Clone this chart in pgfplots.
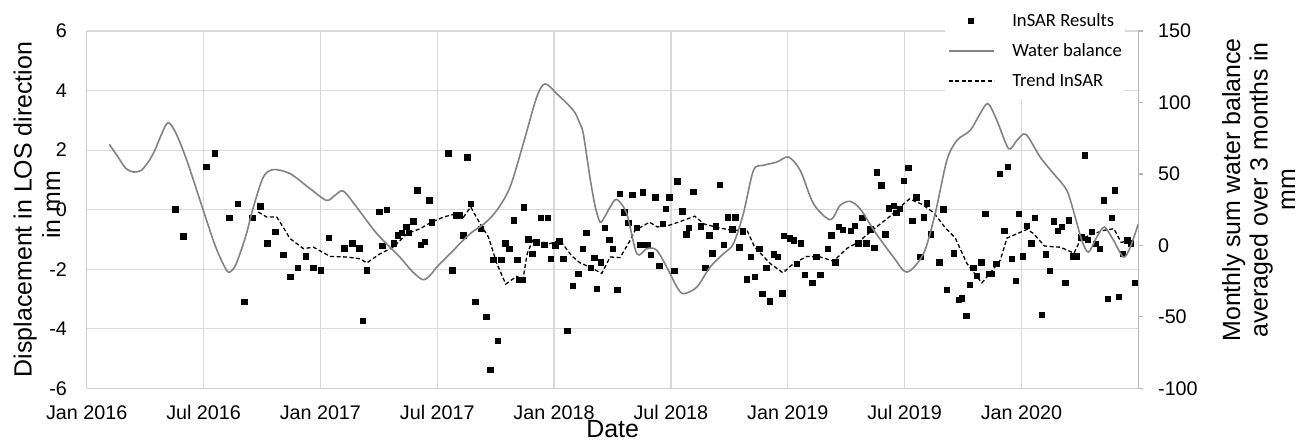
\documentclass[border=0pt]{standalone}
\usepackage{fontspec}
\setmainfont{Liberation Sans}
\newfontfamily\legendfont{Carlito}
\usepackage{pgfplots}
\pgfplotsset{compat=1.18}

\definecolor{wbgray}{RGB}{130,130,130}
\definecolor{gridgray}{RGB}{217,217,217}
\definecolor{axgray}{RGB}{205,205,205}

\begin{document}
\begin{tikzpicture}
\path[use as bounding box] (-86.7bp,-52.7bp) rectangle (1222.3bp,388.3bp);

% x = months since Jan 2016
\pgfplotsset{
  common/.style={
    scale only axis, width=1051.6bp, height=357.3bp,
    xmin=0, xmax=54,
    /pgf/number format/assume math mode=true,
    tick label style={font=\fontsize{19.8}{22}\selectfont},
  },
  lineleg/.style={legend image code/.code={\draw[##1] (0bp,0bp) -- (45.5bp,0bp);}},
  markleg/.style={legend image code/.code={\draw[mark repeat=2,mark phase=2,##1] plot coordinates {(0bp,0bp) (22bp,0bp) (45.5bp,0bp)};}},
}

\begin{axis}[common,
  ymin=-6, ymax=6, ytick={-6,-4,...,6},
  xtick={0,6,...,48},
  xticklabels={Jan 2016,Jul 2016,Jan 2017,Jul 2017,Jan 2018,Jul 2018,Jan 2019,Jul 2019,Jan 2020},
  axis x line=bottom, axis y line=left,
  axis line style={-, draw=axgray, line width=1.2bp},
  major tick length=0pt,
  grid=major, major grid style={draw=gridgray, line width=1.2bp},
  xticklabel style={anchor=base, inner sep=0pt, yshift=-31bp},
  yticklabel style={anchor=east, inner sep=0pt, xshift=-19.7bp},
]
% InSAR results
\addplot[only marks, mark=square*, mark size=2.7bp, black] coordinates {
(4.54,0.02) (4.96,-0.89) (6.13,1.45) (6.57,1.90) (7.32,-0.28) (7.74,0.20)
(8.08,-3.10) (8.49,-0.28) (8.90,0.11) (9.26,-1.13) (9.67,-0.75) (10.10,-1.51)
(10.44,-2.25) (10.85,-1.95) (11.26,-1.57) (11.64,-1.95) (12.03,-2.03) (12.44,-0.95)
(13.22,-1.29) (13.63,-1.12) (14.00,-1.29) (14.18,-3.72) (14.38,-2.03) (15.01,-0.06)
(15.39,-0.01) (15.18,-1.21) (15.75,-1.12) (15.97,-0.86) (16.18,-0.77) (16.40,-0.57)
(16.55,-0.77) (16.77,-0.39) (16.98,0.66) (17.15,-1.18) (17.36,-1.07) (17.58,0.32)
(17.73,-0.42) (18.56,1.90) (18.76,-2.03) (18.95,-0.19) (19.14,-0.19) (19.34,-0.86)
(19.53,1.76) (19.72,0.21) (19.94,-3.10) (20.24,-0.64) (20.51,-3.60) (20.88,-1.68)
(21.28,-1.68) (21.11,-4.40) (20.73,-5.37) (21.50,-1.12) (21.69,-1.31) (21.92,-0.36)
(22.10,-1.68) (22.20,-2.36) (22.40,-2.36) (22.44,0.08) (22.67,-0.99) (22.87,-1.47)
(23.08,-1.09) (23.30,-0.28) (23.66,-0.28) (23.50,-1.18) (23.83,-1.65) (24.05,-1.20)
(24.27,-1.06) (24.46,-1.65) (24.67,-4.06) (24.96,-2.55) (25.23,-2.16) (25.46,-1.32)
(25.64,-0.77) (25.87,-1.94) (26.06,-1.62) (26.19,-2.66) (26.40,-1.77) (26.60,-0.60)
(26.83,-1.01) (27.02,-1.32) (27.25,-2.69) (27.38,0.54) (27.60,-0.08) (27.80,-0.43)
(28.01,0.50) (28.25,-0.60) (28.42,-1.17) (28.56,0.59) (28.78,-1.17) (28.97,-1.51)
(29.19,0.42) (29.39,-1.88) (29.58,-0.47) (29.74,0.03) (29.92,0.42) (30.16,-2.06)
(30.33,0.96) (30.57,-0.05) (30.78,-0.83) (30.90,-0.60) (31.14,0.60) (31.54,-0.56)
(31.76,-1.94) (31.96,-0.86) (32.12,-1.46) (32.30,-0.56) (32.51,0.83) (32.72,-1.17)
(32.92,-0.25) (33.14,-0.66) (33.30,-0.25) (33.50,-1.26) (33.69,-0.73) (33.90,-2.33)
(34.10,-1.59) (34.31,-2.26) (34.53,-1.31) (34.68,-2.82) (34.89,-1.95) (35.08,-3.07)
(35.28,-1.50) (35.49,-1.59) (35.71,-2.80) (35.80,-0.87) (36.09,-0.96) (36.29,-1.03)
(36.67,-1.13) (36.47,-1.81) (36.88,-2.18) (37.25,-2.46) (37.46,-1.59) (37.66,-2.18)
(38.06,-1.32) (38.23,-0.86) (38.43,-1.76) (38.62,-0.58) (38.83,-0.67) (39.22,-0.71)
(39.44,-0.53) (39.61,-1.12) (39.82,-0.28) (40.02,-1.12) (40.23,-0.65) (40.44,-1.28)
(40.57,1.26) (40.80,0.82) (41.00,-0.83) (41.19,0.05) (41.43,0.14) (41.57,-0.11)
(41.74,0.03) (41.96,0.98) (42.18,1.40) (42.39,-0.38) (42.59,0.42) (42.80,-1.59)
(42.99,-0.25) (43.14,0.22) (43.35,-0.83) (43.77,-1.77) (43.98,0.02) (44.17,-2.68)
(44.51,-1.46) (44.77,-3.02) (44.94,-2.97) (45.16,-3.56) (45.35,-2.52) (45.52,-1.95)
(45.71,-2.22) (45.93,-1.76) (46.14,-0.13) (46.31,-2.15) (46.48,-2.15) (46.70,-1.81)
(46.88,1.20) (47.11,-0.71) (47.30,1.45) (47.51,-1.65) (47.71,-2.38) (47.85,-0.13)
(48.08,-1.56) (48.26,-0.53) (48.50,-1.13) (48.69,-0.28) (49.05,-3.53) (49.24,-1.49)
(49.44,-2.06) (49.67,-0.39) (49.85,-0.70) (50.08,-0.58) (50.25,-2.46) (50.44,-0.35)
(50.62,-1.56) (50.83,-1.56) (51.07,-0.93) (51.26,1.83) (51.41,-1.01) (51.62,-0.75)
(51.82,-1.14) (52.01,-1.32) (52.23,0.32) (52.44,-2.99) (52.65,-0.28) (52.80,0.65)
(52.98,-2.93) (53.21,-1.48) (53.43,-1.03) (53.62,-1.13) (53.84,-2.46)
};
% trend InSAR
\addplot[black, line width=1.3bp, dash pattern=on 4bp off 2.5bp] coordinates {
(8.81,-0.08) (9.25,-0.25) (9.76,-0.25) (10.10,-0.60) (10.44,-0.97) (11.13,-1.31)
(11.64,-1.26) (12.50,-1.57) (13.35,-1.59) (14.04,-1.65) (14.38,-1.79) (15.07,-1.48)
(15.75,-1.26) (16.44,-0.81) (17.12,-0.64) (17.70,-0.42) (18.32,-0.25) (19.00,-0.13)
(19.35,-0.25) (19.72,0.09) (20.20,-0.47) (20.63,-0.92) (21.06,-1.81) (21.52,-2.50)
(22.08,-2.24) (22.40,-2.35) (22.62,-1.48) (22.90,-1.03) (23.79,-1.14) (24.31,-1.03)
(24.90,-1.55) (25.34,-1.79) (25.84,-1.93) (26.45,-2.14) (26.88,-1.59) (27.39,-1.61)
(27.91,-1.03) (28.16,-0.70) (28.90,-0.42) (29.30,-0.58) (29.80,-0.55) (30.47,-0.40)
(31.23,-0.22) (31.70,-0.48) (32.53,-0.62) (33.21,-0.70) (33.90,-0.68) (34.30,-1.26)
(35.10,-1.81) (35.75,-2.12) (36.30,-1.81) (36.98,-1.57) (37.67,-1.59) (38.35,-1.73)
(39.04,-1.30) (39.60,-1.10) (40.40,-0.66) (41.20,-0.25) (41.77,0.09) (42.25,0.36)
(42.89,0.18) (43.49,-0.10) (44.08,-0.60) (44.60,-0.95) (45.20,-1.81) (45.54,-2.10)
(45.97,-2.46) (46.49,-2.05) (46.91,-1.70) (47.26,-0.95) (47.77,-0.81) (48.30,-0.66)
(48.63,-0.81) (49.18,-1.22) (49.65,-1.25) (49.99,-1.26) (50.70,-1.46) (51.05,-0.98)
(51.70,-0.81) (52.21,-0.70) (52.75,-0.64) (53.12,-1.10) (53.45,-1.05) (53.76,-1.12)
};
\end{axis}

\begin{axis}[common,
  ymin=-100, ymax=150, ytick={-100,-50,...,150},
  xtick=\empty,
  axis x line=none, axis y line*=right,
  axis line style={-, draw=axgray!90!black, line width=1.2bp},
  tick align=outside, major tick length=5bp,
  tick style={draw=axgray!90!black, line width=1.2bp},
  yticklabel style={anchor=west, inner sep=0pt, xshift=14.7bp},
  legend cell align=left,
  legend style={at={(0.8162,1.0784)}, anchor=north west, draw=none, fill=white,
    inner xsep=3bp, inner ysep=9.7bp, row sep=14bp,
    font=\legendfont\fontsize{18.7}{22}\selectfont,
    nodes={text height=14bp, text depth=2bp, inner sep=0pt},
    /tikz/every odd column/.append style={column sep=17bp}},
]
\addlegendimage{only marks, mark=square*, mark size=2.3bp, black, markleg}
\addlegendentry{InSAR Results}
% monthly water balance, 3-month average
\addplot[wbgray, line width=1.6bp, smooth, tension=0.5, lineleg] coordinates {
(1.16,70.7) (1.60,62) (2.00,54) (2.39,51.3) (2.80,52.5) (3.16,58.3) (3.50,66.5)
(3.85,78) (4.19,85.9) (4.60,78) (5.14,59.5) (5.82,31.5) (6.50,3.5) (6.90,-10)
(7.27,-18.7) (7.60,-15) (7.87,-5.8) (8.20,8) (8.56,26.8) (9.07,47.8) (9.58,53)
(10.44,50.2) (11.47,39.7) (12.31,31.5) (12.75,35) (13.18,38) (13.86,26.8) (14.90,8.2)
(16.08,-8.2) (16.70,-18) (17.26,-24) (17.63,-21) (17.98,-15.2) (18.66,-5.8) (19.69,8.2)
(20.40,15) (21.06,24.5) (21.74,40.8) (22.42,71.2) (23.11,103.8) (23.54,113) (24.14,106.1)
(24.99,94.5) (25.30,86) (25.50,78.2) (25.84,47.8) (26.10,28) (26.36,16.3) (26.60,20)
(26.88,26.8) (27.22,32.2) (27.73,22.2) (28.25,-5.8) (28.76,-2.3) (29.28,-3.5) (29.96,-19.8)
(30.30,-29) (30.64,-33.8) (31.33,-29.2) (32.01,-15.2) (32.70,-5.8) (33.21,1.2) (33.72,22.2)
(34.24,52.5) (34.75,56) (35.44,58.3) (36.03,61.8) (36.64,52.5) (37.32,29.2) (38.18,18)
(38.69,28) (39.20,30.8) (39.72,25.5) (40.50,9) (41.43,-8.2) (42.12,-18.7) (42.97,-5.8)
(43.57,22.2) (44.17,59.5) (44.69,73.5) (45.37,80.5) (45.88,92.2) (46.28,99.2) (46.74,87.5)
(47.34,67.7) (47.77,73.5) (48.23,77.7) (48.96,61.8) (49.65,50.2) (50.33,38.5) (50.76,19.8)
(51.10,3.5) (51.44,-4.7) (51.87,5.8) (52.26,12.8) (52.73,3.5) (53.24,-8.2) (53.59,-1.2)
(54.00,15)
};
\addlegendentry{Water balance}
\addlegendimage{black, line width=1.3bp, dash pattern=on 4bp off 2.5bp, lineleg}
\addlegendentry{Trend InSAR}
\end{axis}

% axis titles
\node[rotate=90, anchor=base, font=\fontsize{25}{30}\selectfont] at (-55bp,178.8bp) {Displacement in LOS direction};
\node[rotate=90, anchor=base, font=\fontsize{25}{30}\selectfont] at (-26.7bp,183.3bp) {in mm};
\node[rotate=90, anchor=base, font=\fontsize{25}{30}\selectfont] at (1153.3bp,198.3bp) {Monthly sum water balance};
\node[rotate=90, anchor=base, font=\fontsize{25}{30}\selectfont] at (1180.8bp,198.3bp) {averaged over 3 months in};
\node[rotate=90, anchor=base, font=\fontsize{25}{30}\selectfont] at (1208.3bp,198.3bp) {mm};
\node[anchor=base, inner sep=0pt, font=\fontsize{25}{30}\selectfont] at (526bp,-49bp) {Date};
\end{tikzpicture}
\end{document}
